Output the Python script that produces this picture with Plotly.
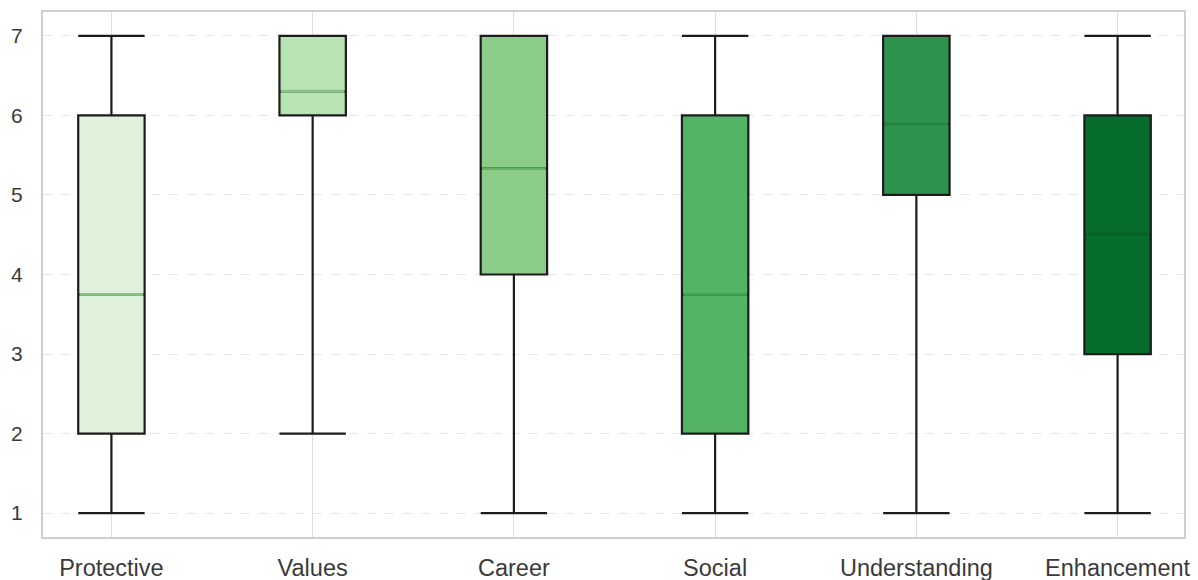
import plotly.graph_objects as go

# Summary statistics per motivation category
categories = ["Protective", "Values", "Career", "Social", "Understanding", "Enhancement"]
lower_whisker = [1, 2, 1, 1, 1, 1]
q1 = [2, 6, 4, 2, 5, 3]
median = [3.75, 6.3, 5.33, 3.75, 5.9, 4.5]
q3 = [6, 7, 7, 6, 7, 6]
upper_whisker = [7, 7, 7, 7, 7, 7]

fill_colors = ["#dff1da", "#b8e3b2", "#8bcd88", "#54b466", "#2e944d", "#066d2e"]
median_colors = ["#86c482", "#8ccc87", "#62b161", "#44a257", "#268b43", "#0b6229"]

box_width = 0.33
positions = list(range(len(categories)))

fig = go.Figure()

for i, name in enumerate(categories):
    fig.add_trace(go.Box(
        x=[positions[i]],
        q1=[q1[i]], median=[median[i]], q3=[q3[i]],
        lowerfence=[lower_whisker[i]], upperfence=[upper_whisker[i]],
        width=box_width,
        whiskerwidth=1,
        fillcolor=fill_colors[i],
        line=dict(color="#1c1c1c", width=2.2),
        name=name,
        showlegend=False,
        hoverinfo="skip",
    ))

# Coloured median lines drawn over each box
for i, name in enumerate(categories):
    fig.add_trace(go.Scatter(
        x=[positions[i] - box_width / 2 + 0.007, positions[i] + box_width / 2 - 0.007],
        y=[median[i], median[i]],
        mode="lines",
        line=dict(color=median_colors[i], width=2.6),
        showlegend=False,
        hoverinfo="skip",
    ))

fig.update_layout(
    width=1198, height=580,
    margin=dict(l=43, r=14, t=12, b=43),
    paper_bgcolor="white",
    plot_bgcolor="white",
    font=dict(family="Liberation Sans, Arial, sans-serif", size=22, color="#3a3a3a"),
)

fig.update_xaxes(
    range=[-0.34, 5.33],
    tickmode="array", tickvals=positions, ticktext=categories,
    tickfont=dict(size=23.5),
    showgrid=True, gridcolor="#dedede", gridwidth=1,
    zeroline=False,
    showline=True, linecolor="#cfcfcf", linewidth=2, mirror=True,
    ticks="", ticklabelstandoff=9,
    automargin=False,
)
fig.update_yaxes(
    range=[0.7, 7.3],
    tickmode="array", tickvals=[1, 2, 3, 4, 5, 6, 7],
    tickfont=dict(size=21),
    showgrid=True, gridcolor="#e6e6e6", gridwidth=1, griddash="dash",
    zeroline=False,
    showline=True, linecolor="#cfcfcf", linewidth=2, mirror=True,
    ticks="", ticklabelstandoff=14,
    automargin=False,
)

fig.write_html("out.html")
